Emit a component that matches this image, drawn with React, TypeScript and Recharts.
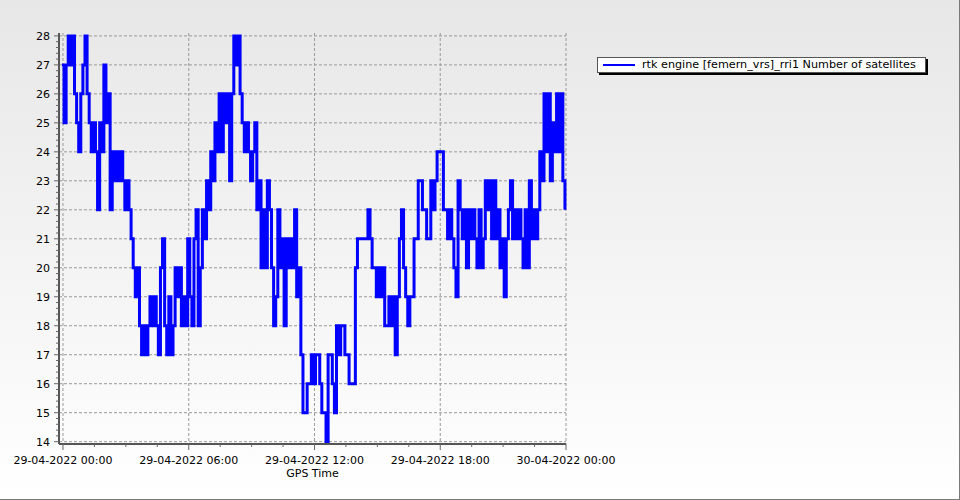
import { LineChart, Line, XAxis, YAxis, CartesianGrid } from 'recharts';

// GPS time in hours after 29-04-2022 00:00, one sample every 6 minutes
const START_HOUR = -0.05;
const STEP_HOURS = 0.1;

// Number of satellites
const SATELLITES = [
    27, 25, 27, 28, 27, 28, 26, 25, 24, 26,
    27, 28, 26, 25, 24, 25, 24, 22, 25, 24,
    27, 25, 26, 22, 24, 23, 24, 23, 24, 23,
    22, 23, 22, 21, 20, 19, 20, 18, 17, 18,
    17, 18, 19, 18, 19, 18, 17, 20, 21, 18,
    17, 19, 17, 18, 20, 19, 20, 18, 19, 18,
    21, 19, 18, 21, 22, 18, 20, 22, 21, 23,
    22, 24, 23, 25, 24, 26, 24, 26, 25, 26,
    23, 26, 28, 27, 28, 26, 25, 24, 25, 24,
    23, 24, 25, 22, 23, 20, 22, 20, 23, 22,
    20, 18, 19, 22, 20, 21, 18, 21, 20, 21,
    20, 22, 19, 20, 17, 15, 15, 16, 16, 17,
    16, 17, 17, 16, 15, 15, 14, 17, 17, 16,
    15, 18, 17, 18, 18, 17, 17, 16, 16, 16,
    20, 21, 21, 21, 21, 21, 22, 21, 20, 20,
    19, 20, 19, 20, 18, 18, 19, 18, 19, 17,
    19, 21, 22, 20, 19, 18, 19, 19, 21, 21,
    23, 23, 22, 22, 21, 21, 23, 22, 23, 24,
    24, 24, 22, 22, 21, 22, 21, 20, 19, 23,
    22, 21, 22, 20, 22, 21, 22, 21, 20, 22,
    20, 21, 23, 22, 23, 21, 23, 21, 22, 20,
    21, 19, 21, 22, 23, 21, 22, 21, 22, 21,
    20, 22, 20, 23, 21, 22, 21, 22, 24, 23,
    26, 24, 26, 23, 25, 24, 26, 24, 26, 23,
    22,
];

const X_MAJOR = [0, 6, 12, 18, 24];
const X_LABELS = ['29-04-2022 00:00', '29-04-2022 06:00', '29-04-2022 12:00', '29-04-2022 18:00', '30-04-2022 00:00'];
const X_MINOR_STEP = 1.5;

const Y_MAJOR = [14, 15, 16, 17, 18, 19, 20, 21, 22, 23, 24, 25, 26, 27, 28];
const Y_MINOR_STEP = 0.2;

const SERIES_NAME = 'rtk engine [femern_vrs]_rri1 Number of satellites';

const FONT = '"DejaVu Sans", Verdana, sans-serif';

const data = SATELLITES.map((sats, i) => ({ t: START_HOUR + i * STEP_HOURS, sats }));

// tick positions incl. the small ones in between
const xTicks: number[] = [];
for (let h = 0; h <= 24 + 1e-6; h += X_MINOR_STEP) xTicks.push(Math.round(h * 10) / 10);
const yTicks: number[] = [];
for (let v = 14; v <= 28 + 1e-6; v += Y_MINOR_STEP) yTicks.push(Math.round(v * 10) / 10);

function TimeTick({ x, y, payload }: any) {
    const idx = X_MAJOR.indexOf(payload.value);
    const major = idx >= 0;
    return (
        <g>
            <line x1={x} x2={x} y1={y} y2={y + (major ? 6 : 3)} stroke="#666" />
            {major && (
                <text x={x} y={y + 19.5} textAnchor="middle" fontSize={11} fontFamily={FONT} fill="#000">
                    {X_LABELS[idx]}
                </text>
            )}
        </g>
    );
}

function SatTick({ x, y, payload }: any) {
    const major = Y_MAJOR.includes(payload.value);
    return (
        <g>
            <line x1={x - (major ? 5 : 3)} x2={x} y1={y} y2={y} stroke="#666" />
            {major && (
                <text x={x - 9} y={y + 4} textAnchor="end" fontSize={11} fontFamily={FONT} fill="#000">
                    {payload.value}
                </text>
            )}
        </g>
    );
}

export default function App() {
    return (
        <div
            style={{
                position: 'absolute',
                left: 0,
                top: 0,
                width: 960,
                height: 500,
                background: 'linear-gradient(#e7e7e7, #ffffff)',
                fontFamily: FONT,
            }}
        >
            <LineChart width={960} height={500} data={data} margin={{ top: 33, right: 394, bottom: 0, left: 0 }}>
                <CartesianGrid
                    stroke="#9a9a9a"
                    strokeDasharray="3 2"
                    horizontalValues={Y_MAJOR}
                    verticalValues={X_MAJOR}
                />
                <XAxis
                    type="number"
                    dataKey="t"
                    domain={[-0.19, 24]}
                    ticks={xTicks}
                    interval={0}
                    height={56}
                    tickSize={0}
                    tickMargin={0}
                    tickLine={false}
                    tick={<TimeTick />}
                    axisLine={{ stroke: '#555', strokeWidth: 2 }}
                    label={{ value: 'GPS Time', position: 'insideTop', offset: 25, fill: '#000', fontSize: 11, fontFamily: FONT }}
                />
                <YAxis
                    type="number"
                    domain={[13.92, 28.1]}
                    ticks={yTicks}
                    interval={0}
                    width={59}
                    tickSize={0}
                    tickMargin={0}
                    tickLine={false}
                    tick={<SatTick />}
                    axisLine={{ stroke: '#555', strokeWidth: 2 }}
                />
                <Line
                    type="stepAfter"
                    dataKey="sats"
                    stroke="#0000ff"
                    strokeWidth={3}
                    dot={false}
                    isAnimationActive={false}
                />
            </LineChart>

            {/* legend box with hard shadow */}
            <div
                style={{
                    position: 'absolute',
                    left: 597,
                    top: 57,
                    width: 327,
                    height: 14,
                    background: '#fff',
                    border: '1px solid #555',
                    boxShadow: '2px 2px 0 #000',
                }}
            >
                <div style={{ position: 'absolute', left: 5, top: 6, width: 32, height: 2, background: '#0000ff' }} />
                <div
                    style={{
                        position: 'absolute',
                        left: 44,
                        top: 0,
                        fontSize: 11.2,
                        lineHeight: '14px',
                        color: '#000',
                        whiteSpace: 'nowrap',
                    }}
                >
                    {SERIES_NAME}
                </div>
            </div>

            <div
                style={{
                    position: 'absolute',
                    left: 0,
                    top: 0,
                    width: 960,
                    height: 500,
                    boxSizing: 'border-box',
                    borderRight: '1px solid #7a7a7a',
                    borderBottom: '1px solid #7a7a7a',
                    pointerEvents: 'none',
                }}
            />
        </div>
    );
}
